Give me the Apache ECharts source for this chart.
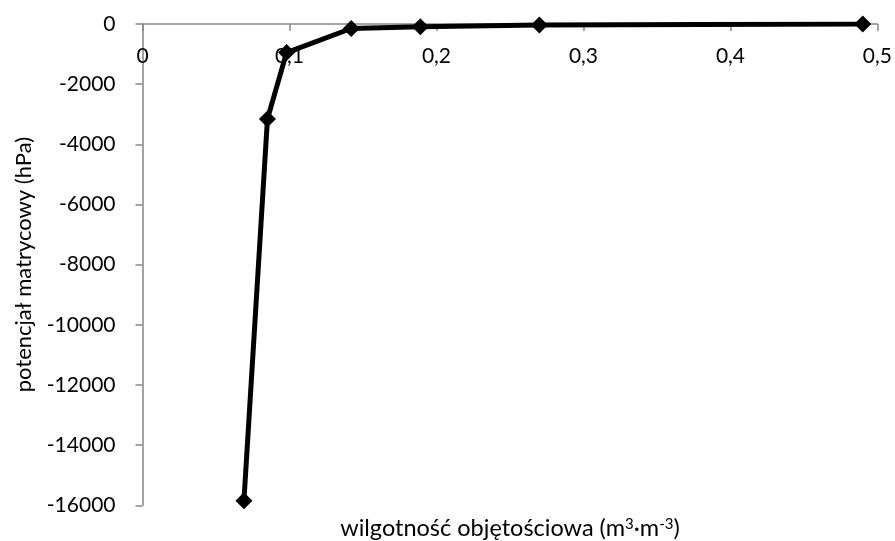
<!DOCTYPE html>
<html>
<head>
<meta charset="utf-8">
<script src="https://cdn.jsdelivr.net/npm/echarts@6/dist/echarts.min.js"></script>
<style>
  html, body { margin: 0; padding: 0; background: #fff; }
  #chart { width: 895px; height: 541px; }
</style>
</head>
<body>
<div id="chart"></div>
<script>
// Volumetric water content (m3/m3) and matric potential (hPa)
const moisture = [0.069, 0.085, 0.098, 0.142, 0.189, 0.27, 0.49];
const potential = [-15850, -3160, -950, -150, -95, -32, -2];

// x title with raised exponents drawn as rich-text fragments
const xTitle = '{t|wilgotność objętościowa (m}{sup|3}{t|·m}{sup|-3}{t|)}';
const yTitle = 'potencjał matrycowy (hPa)';

const FONT = 'Lato';
const axisGray = '#868686';

const chart = echarts.init(document.getElementById('chart'), null, { renderer: 'canvas' });

chart.setOption({
  animation: false,
  backgroundColor: '#ffffff',
  grid: { left: 142.5, right: 17, top: 24, bottom: 31.5, containLabel: false },
  xAxis: {
    type: 'value',
    position: 'top',
    min: 0,
    max: 0.5,
    interval: 0.1,
    name: xTitle,
    nameLocation: 'middle',
    nameGap: -516,
    nameTextStyle: {
      fontFamily: FONT, fontSize: 23.5, lineHeight: 23.5, color: '#000',
      rich: {
        t: { fontFamily: FONT, fontSize: 23.5, lineHeight: 23.5, color: '#000' },
        sup: { fontFamily: FONT, fontSize: 15, lineHeight: 15, color: '#000', verticalAlign: 'top', padding: [0, 0, 0, 0] }
      }
    },
    axisLine: { show: true, onZero: false, lineStyle: { color: axisGray, width: 1.5 } },
    axisTick: { show: true, inside: true, length: 7, lineStyle: { color: axisGray, width: 1.5 } },
    axisLabel: {
      inside: true,
      margin: 22,
      fontFamily: FONT,
      fontSize: 21,
      color: '#000',
      formatter: v => String(Math.round(v * 10) / 10).replace('.', ',')
    },
    splitLine: { show: false }
  },
  yAxis: {
    type: 'value',
    min: -16000,
    max: 0,
    interval: 2000,
    name: yTitle,
    nameLocation: 'middle',
    nameGap: 108,
    nameTextStyle: { fontFamily: FONT, fontSize: 22, lineHeight: 22, color: '#000' },
    axisLine: { show: true, onZero: false, lineStyle: { color: axisGray, width: 1.5 } },
    axisTick: { show: true, length: 7, lineStyle: { color: axisGray, width: 1.5 } },
    axisLabel: {
      margin: 27,
      fontFamily: FONT,
      fontSize: 21,
      color: '#000',
      formatter: v => String(v)
    },
    splitLine: { show: false }
  },
  series: [{
    type: 'line',
    data: moisture.map((x, i) => [x, potential[i]]),
    symbol: 'diamond',
    symbolSize: 17,
    showAllSymbol: true,
    lineStyle: { color: '#000', width: 5 },
    itemStyle: { color: '#000' },
    z: 3
  }]
});
</script>
</body>
</html>
